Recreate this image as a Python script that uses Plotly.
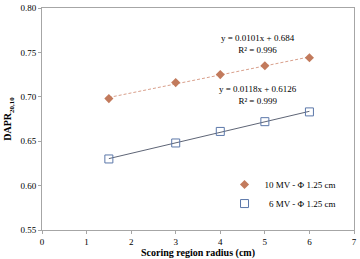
import numpy as np
import plotly.graph_objects as go

radius = [1.5, 3, 4, 5, 6]
dapr_10mv = [0.698, 0.716, 0.725, 0.735, 0.744]
dapr_6mv = [0.630, 0.648, 0.661, 0.672, 0.683]
name_10 = "10 MV - Φ 1.25 cm"
name_6 = "&nbsp;&nbsp;6 MV - Φ 1.25 cm"
eq_10 = "y = 0.0101x + 0.684<br>R² = 0.996"
eq_6 = "y = 0.0118x + 0.6126<br>R² = 0.999"

FONT = "Liberation Serif, Times New Roman, serif"
c10 = "#C27A5C"
c10_line = "#D9A08C"
c6 = "#5B77A9"
c6_line = "#5E6576"

fig = go.Figure()

xr = np.array([min(radius), max(radius)])
for ys, col, dash in [(dapr_10mv, c10_line, "3px,2px"), (dapr_6mv, c6_line, "solid")]:
    m, b = np.polyfit(radius, ys, 1)
    fig.add_trace(go.Scatter(x=xr, y=m * xr + b, mode="lines",
                             line=dict(color=col, width=1, dash=dash),
                             showlegend=False, hoverinfo="skip"))

fig.add_trace(go.Scatter(x=radius, y=dapr_10mv, mode="markers", name=name_10,
                         marker=dict(symbol="diamond", size=7, color=c10)))
fig.add_trace(go.Scatter(x=radius, y=dapr_6mv, mode="markers", name=name_6,
                         marker=dict(symbol="square-open", size=8, color=c6,
                                     line=dict(width=1, color=c6))))

fig.add_annotation(x=4.85, y=0.759, text=eq_10, showarrow=False,
                   font=dict(family=FONT, size=9, color="#000"), align="center")
fig.add_annotation(x=4.85, y=0.7015, text=eq_6, showarrow=False,
                   font=dict(family=FONT, size=9, color="#000"), align="center")

axis_common = dict(showline=True, linecolor="#A6A6A6", linewidth=1, mirror=True,
                   showgrid=False, zeroline=False, ticks="outside", ticklen=3,
                   tickcolor="#A6A6A6", tickfont=dict(family=FONT, size=9, color="#000"))

fig.update_layout(
    width=360, height=259,
    margin=dict(l=42, r=6, t=8, b=29, autoexpand=False),
    paper_bgcolor="white", plot_bgcolor="white",
    font=dict(family=FONT, size=9, color="#000"),
    xaxis=dict(range=[0, 7], dtick=1, automargin=False,
               title=dict(text="<b>Scoring region radius (cm)</b>", standoff=14,
                          font=dict(family=FONT, size=10)),
               **axis_common),
    yaxis=dict(range=[0.55, 0.80], dtick=0.05, tickformat=".2f", automargin=False,
               title=dict(text="<b>DAPR<sub>20,10</sub></b>", standoff=6,
                          font=dict(family=FONT, size=10)),
               **axis_common),
    legend=dict(x=0.585, y=0.27, xanchor="left", yanchor="top",
                bgcolor="rgba(0,0,0,0)", font=dict(family=FONT, size=9),
                itemwidth=30, tracegroupgap=2),
)

fig.write_html("out.html")
